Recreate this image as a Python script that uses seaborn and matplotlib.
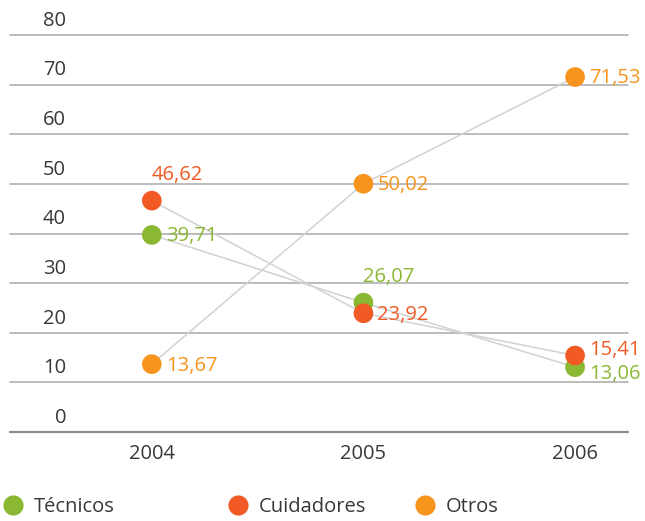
import matplotlib
matplotlib.use("Agg")
import matplotlib.pyplot as plt
import matplotlib.transforms as mtransforms
from matplotlib.lines import Line2D
import seaborn as sns
import pandas as pd

years = [2004, 2005, 2006]
series = ["Técnicos", "Cuidadores", "Otros"]
tecnicos = [39.71, 26.07, 13.06]
cuidadores = [46.62, 23.92, 15.41]
otros = [13.67, 50.02, 71.53]
y_ticks = [0, 10, 20, 30, 40, 50, 60, 70, 80]

colors = {"Técnicos": "#8AB833", "Cuidadores": "#F15A24", "Otros": "#F7941D"}
text_color = "#383838"
fs = 14.5

df = pd.DataFrame({
    "year": years * 3,
    "serie": [s for s in series for _ in years],
    "value": tecnicos + cuidadores + otros,
})

sns.set_theme(style="white")
plt.rcParams["font.family"] = ["Open Sans", "DejaVu Sans"]

fig = plt.figure(figsize=(6.45, 5.21), dpi=100)
ax = fig.add_axes([10 / 645, 89 / 521, 618 / 645, 397 / 521])

# gray connectors between the yearly points of each group
sns.lineplot(data=df, x="year", y="value", units="serie", estimator=None,
             color="#d2d2d2", lw=1.1, ax=ax, legend=False, zorder=2)
sns.scatterplot(data=df, x="year", y="value", hue="serie", palette=colors,
                s=200, edgecolor="none", linewidth=0, ax=ax, legend=False,
                zorder=3, clip_on=False)

ax.set_xlim(2003.33, 2006.25)
ax.set_ylim(0, 80)
ax.set_xticks(years)
ax.set_xticklabels([str(y) for y in years], fontsize=fs, color=text_color)
ax.set_yticks(y_ticks)
ax.tick_params(axis="x", length=0, pad=8.5)
ax.tick_params(axis="y", length=0, labelleft=False)
ax.set_xlabel("")
ax.set_ylabel("")
for sp in ax.spines.values():
    sp.set_visible(False)

ylab_tr = mtransforms.blended_transform_factory(ax.transAxes, ax.transData)
for t in y_ticks:
    ax.axhline(t, color="#8c8c8c" if t == 0 else "#a9a9a9",
               lw=1.6 if t == 0 else 1.1, zorder=1, clip_on=False)
    ax.annotate(str(t), (56 / 618, t), xycoords=ylab_tr, xytext=(0, 3),
                textcoords="offset points", ha="right", va="bottom",
                fontsize=fs, color=text_color)

# value labels (comma decimal separator): (dx, dy, ha, va) in points
label_pos = {
    ("Cuidadores", 2004): (0, 11, "left", "bottom"),
    ("Técnicos", 2005): (0, 11, "left", "bottom"),
    ("Cuidadores", 2006): (10, 4, "left", "center"),
    ("Técnicos", 2006): (10, -5, "left", "center"),
}
for _, r in df.iterrows():
    txt = f"{r['value']:.2f}".replace(".", ",")
    dx, dy, ha, va = label_pos.get((r["serie"], r["year"]), (10, -1, "left", "center"))
    ax.annotate(txt, (r["year"], r["value"]), xytext=(dx, dy),
                textcoords="offset points", ha=ha, va=va,
                fontsize=fs, color=colors[r["serie"]], zorder=4)

# legend entries along the bottom
legend_x = [3 / 645, 228 / 645, 415 / 645]
for name, lx in zip(series, legend_x):
    h = Line2D([], [], ls="none", marker="o", markersize=14.5,
               markerfacecolor=colors[name], markeredgewidth=0)
    fig.legend(handles=[h], labels=[name], loc="center left",
               bbox_to_anchor=(lx, 14 / 521), frameon=False,
               handlelength=1, handletextpad=0.55, borderpad=0,
               borderaxespad=0, fontsize=fs, labelcolor=text_color)

fig.savefig("out.png", dpi=100)
